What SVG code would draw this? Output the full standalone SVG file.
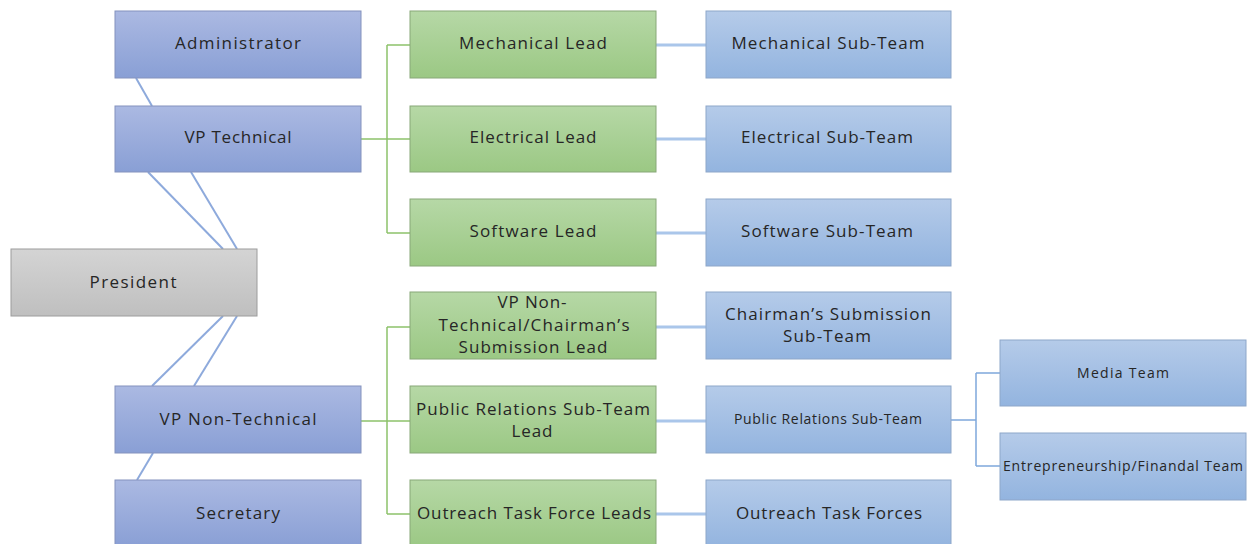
<svg xmlns="http://www.w3.org/2000/svg" width="1251" height="544" viewBox="0 0 1251 544">
<defs>
<linearGradient id="gPurple" x1="0" y1="0" x2="0" y2="1"><stop offset="0" stop-color="#abb9e2"/><stop offset="1" stop-color="#899fd5"/></linearGradient>
<linearGradient id="gBlue" x1="0" y1="0" x2="0" y2="1"><stop offset="0" stop-color="#b5cbe9"/><stop offset="1" stop-color="#93b4df"/></linearGradient>
<linearGradient id="gGreen" x1="0" y1="0" x2="0" y2="1"><stop offset="0" stop-color="#b6d8a6"/><stop offset="1" stop-color="#9bc884"/></linearGradient>
<linearGradient id="gGray" x1="0" y1="0" x2="0" y2="1"><stop offset="0" stop-color="#d4d4d4"/><stop offset="1" stop-color="#bfbfbf"/></linearGradient>
</defs>
<style>
.purple{fill:url(#gPurple);stroke:#8492bd;stroke-width:1}
.blue{fill:url(#gBlue);stroke:#8ea7c9;stroke-width:1}
.green{fill:url(#gGreen);stroke:#88a878;stroke-width:1}
.gray{fill:url(#gGray);stroke:#9c9c9c;stroke-width:1}
text{font-family:"Open Sans","Liberation Sans",sans-serif;font-size:17px;fill:#262626;text-anchor:middle}
.sm{font-size:14px}
.lb{stroke:#8eaadc;stroke-width:2;fill:none}
.lg{stroke:#8dc26b;stroke-width:1.5;fill:none}
.ls{stroke:#aac6ea;stroke-width:3;fill:none}
.lt{stroke:#7fa8dc;stroke-width:1.5;fill:none}
</style>
<rect width="1251" height="544" fill="#ffffff"/>
<g id="connectors">
<line class="lb" x1="136" y1="78" x2="152" y2="106"/>
<line class="lb" x1="148" y1="172" x2="223" y2="249"/>
<line class="lb" x1="191" y1="172" x2="237" y2="249"/>
<line class="lb" x1="223" y1="316" x2="152" y2="386"/>
<line class="lb" x1="237" y1="316" x2="194" y2="386"/>
<line class="lb" x1="153" y1="453" x2="137" y2="480"/>
<path class="lg" d="M361 139 H410 M387 45 V233 M387 45 H410 M387 233 H410"/>
<path class="lg" d="M361 421 H410 M387 327 V514 M387 327 H410 M387 514 H410"/>
<line class="ls" x1="656" y1="45" x2="706" y2="45"/>
<line class="ls" x1="656" y1="139" x2="706" y2="139"/>
<line class="ls" x1="656" y1="233" x2="706" y2="233"/>
<line class="ls" x1="656" y1="327" x2="706" y2="327"/>
<line class="ls" x1="656" y1="421" x2="706" y2="421"/>
<line class="ls" x1="656" y1="514" x2="706" y2="514"/>
<path class="lt" d="M951 420 H976 M976 373 V466 M976 373 H1000 M976 466 H1000"/>
</g>
<g id="administrator"><rect class="purple" x="115" y="11" width="246" height="67"/><text x="238" y="49" textLength="126">Administrator</text></g>
<g id="vp-technical"><rect class="purple" x="115" y="106" width="246" height="66"/><text x="238" y="143" textLength="107">VP Technical</text></g>
<g id="president"><rect class="gray" x="11" y="249" width="246" height="67"/><text x="133" y="288" textLength="87">President</text></g>
<g id="vp-non-technical"><rect class="purple" x="115" y="386" width="246" height="67"/><text x="238" y="425" textLength="157">VP Non-Technical</text></g>
<g id="secretary"><rect class="purple" x="115" y="480" width="246" height="67"/><text x="238" y="519" textLength="84">Secretary</text></g>
<g id="mechanical-lead"><rect class="green" x="410" y="11" width="246" height="67"/><text x="533" y="49" textLength="148">Mechanical Lead</text></g>
<g id="electrical-lead"><rect class="green" x="410" y="106" width="246" height="66"/><text x="533" y="143" textLength="127">Electrical Lead</text></g>
<g id="software-lead"><rect class="green" x="410" y="199" width="246" height="67"/><text x="533" y="237" textLength="127">Software Lead</text></g>
<g id="vp-chairmans-lead"><rect class="green" x="410" y="292" width="246" height="67"/><text x="532" y="308" textLength="69">VP Non-</text><text x="534" y="331" textLength="191">Technical/Chairman’s</text><text x="533" y="353" textLength="149">Submission Lead</text></g>
<g id="pr-lead"><rect class="green" x="410" y="386" width="246" height="67"/><text x="533" y="415" textLength="234">Public Relations Sub-Team</text><text x="532" y="437" textLength="41">Lead</text></g>
<g id="outreach-leads"><rect class="green" x="410" y="480" width="246" height="67"/><text x="534" y="519" textLength="234">Outreach Task Force Leads</text></g>
<g id="mechanical-subteam"><rect class="blue" x="706" y="11" width="245" height="67"/><text x="828" y="49" textLength="193">Mechanical Sub-Team</text></g>
<g id="electrical-subteam"><rect class="blue" x="706" y="106" width="245" height="66"/><text x="827" y="143" textLength="172">Electrical Sub-Team</text></g>
<g id="software-subteam"><rect class="blue" x="706" y="199" width="245" height="67"/><text x="827" y="237" textLength="172">Software Sub-Team</text></g>
<g id="chairmans-subteam"><rect class="blue" x="706" y="292" width="245" height="67"/><text x="828" y="320" textLength="206">Chairman’s Submission</text><text x="827" y="342" textLength="88">Sub-Team</text></g>
<g id="pr-subteam"><rect class="blue" x="706" y="386" width="245" height="67"/><text class="sm" x="828" y="424" textLength="188">Public Relations Sub-Team</text></g>
<g id="outreach-forces"><rect class="blue" x="706" y="480" width="245" height="67"/><text x="829" y="519" textLength="186">Outreach Task Forces</text></g>
<g id="media-team"><rect class="blue" x="1000" y="340" width="246" height="66"/><text class="sm" x="1123" y="378" textLength="92">Media Team</text></g>
<g id="entrepreneurship-team"><rect class="blue" x="1000" y="433" width="246" height="67"/><text class="sm" x="1123" y="471" textLength="240">Entrepreneurship/Finandal Team</text></g>
</svg>
